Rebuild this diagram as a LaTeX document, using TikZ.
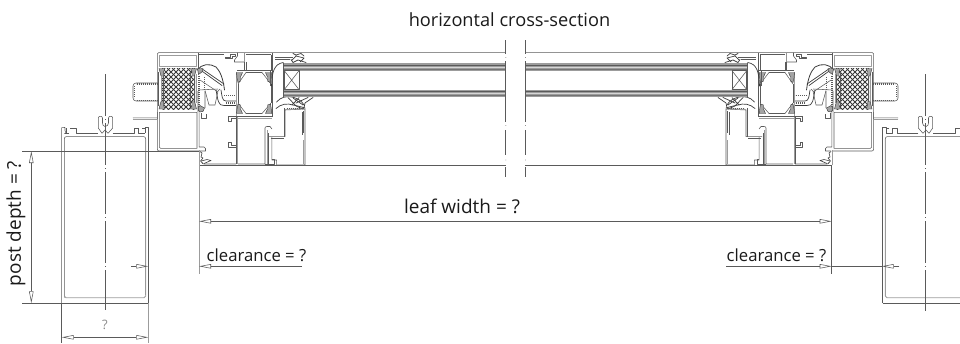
\documentclass[tikz,border=0pt]{standalone}
\usepackage{fontspec}
\setmainfont{Open Sans}
\usetikzlibrary{arrows.meta}
\definecolor{ink}{HTML}{5A5A5A}
\definecolor{dark}{HTML}{3A3A3A}
\definecolor{txt}{HTML}{1A1A1A}
\tikzset{
 ln/.style={draw=ink,line width=0.55pt,line join=round},
 lg/.style={draw=ink!60,line width=0.9pt,line join=round},
 gk/.style={draw=dark,line width=0.9pt,line cap=round,line join=round},
 gkd/.style={draw=ink,line width=1.1pt,dash pattern=on 1.1pt off 0.9pt},
 blk/.style={fill=ink!55,draw=dark,line width=0.45pt},
 dim/.style={draw=ink,line width=0.55pt},
 tipA/.tip={Triangle[open,length=12pt,width=4.4pt,line width=0.55pt]},
 arr/.style={draw=ink,line width=0.55pt,{tipA}-{tipA}},
 arrE/.style={draw=ink,line width=0.55pt,-{tipA}},
 ctr/.style={draw=ink,line width=0.5pt,dash pattern=on 42pt off 3pt on 1pt off 3pt},
 lab/.style={text=txt,inner sep=0pt},
 qm/.style={text=ink!70,font=\fontsize{13}{15}\selectfont,inner sep=0pt},
}
\newcommand{\postshape}{%
 \draw[ln] (61.7,303.3)--(61.7,127.7)--(65,127.7)--(65,130.5)--(66,133.3)--(64,133.3);
 \draw[ln] (148.3,303.3)--(148.3,127.7)--(145,127.7)--(145,133.3);
 \draw[ln] (63.5,127.7)--(65,127.7) (69,133.3)--(64.5,133.3);
 \draw[ln] (66,133.3)--(66,128) (70,128)--(72,128) (72,128)--(76,128)--(76,133.3)--(98.3,133.3);
 \draw[ln] (112.7,133.3)--(134,133.3)--(134,128)--(138.5,128) (142,128)--(145,128) (138.5,128)--(138.5,133.3)--(145,133.3);
 \draw[ln] (61.7,303.3)--(148.3,303.3);
 \draw[ln] (102,133.3)--(98.3,128)--(98.3,118) to[out=90,in=90,looseness=1.4] (102.5,118)--(102.5,123) to[out=-90,in=180] (105,126.5)
   to[out=0,in=-90] (108.5,123)--(108.5,118) to[out=90,in=90,looseness=1.4] (112.7,118)--(112.7,128)--(108,133.3);
 \draw[ln] (102,133.3)--(105,130)--(108,133.3);
 \draw[ln] (64.3,297.7)--(64.3,139) to[out=90,in=180] (66,136.7)--(144,136.7) to[out=0,in=90] (145.7,139)--(145.7,295);
 \draw[lg] (145.7,139)--(145.7,296) to[out=-90,in=0] (144,297.7)--(66,297.7) to[out=180,in=-90] (64.3,296);
}
\newcommand{\halfsection}{%
 \draw[ln] (157.3,119)--(157.3,54) to[out=90,in=180] (158.5,52.7)--(505.7,52.7);
 \draw[ln] (199,54.3)--(224,54.3);
 \draw[ln] (157.3,112)--(157.3,149) to[out=-90,in=180] (159,151)--(199,151);
 \draw[lg] (159.3,55)rectangle(196.8,66);
 \draw[ln] (159.3,112.3)--(159.3,147)to[out=-90,in=180](160.5,148.3)--(197,148.3)--(197,112.3)--cycle;
 \draw[ln] (198.5,52.7)--(198.5,71);
 \draw[ln] (199.2,113)--(199.2,147)--(204,147)--(205.5,148.5)--(205.5,151)--(200,151);
 \draw[ln] (201,113)--(201,118)--(206,118)--(206,114);
 \draw[lg] (132.7,119)--(157,119);
 \draw[ln] (133,118)--(134,117.8)--(157,117.8);
 \draw[ln] (158,83)--(136,83) to[out=180,in=90] (133,86)--(133,98) to[out=-90,in=180] (136,101)--(158,101);
 \draw[gkd] (158,84)--(136,84);\draw[gkd] (158,100.5)--(136,100.5);
 \draw[gkd] (134.3,86)--(134.3,98);
 \begin{scope}
  \clip (162,68.3) rectangle (195,109.3);
  \foreach \d in {-50,-45,...,60}{
   \draw[draw=dark,line width=0.75pt] (162+\d,68)--(162+\d+42,110);
   \draw[draw=dark,line width=0.75pt] (195-\d,68)--(195-\d-42,110);
  }
 \end{scope}
 \draw[lg] (161,74)--(161,103);\draw[lg] (196,74)--(196,103);
 \draw[ln] (163,72)--(163,106) (190.3,72)--(190.3,106) (194.5,72)--(194.5,106) (158.5,72)--(158.5,106);
 \filldraw[blk] (159,68.5)--(165,68.5)--(163.5,72)--(163.5,76)--(161,76)--(160,72)--cycle;
 \filldraw[blk] (190.5,68.5)--(196.5,68.5)--(195.5,72)--(194.5,76)--(192,76)--(192,72)--cycle;
 \filldraw[blk] (159,109)--(165,109)--(163.5,105)--(163.5,101.5)--(161,101.5)--(160,105)--cycle;
 \filldraw[blk] (190.5,109)--(196.5,109)--(195.5,105)--(194.5,101.5)--(192,101.5)--(192,105)--cycle;
 \draw[gk,line width=0.8pt] (197.5,70) .. controls (201,64) and (210,63) .. (216,67) .. controls (220,71) and (223,78) .. (224.5,90);
 \draw[gk,line width=0.7pt] (199,69)--(222,85.5) (201.5,68.5)--(224,84);
 \draw[ln] (200,80)--(218,92);
 \draw[gkd] (199,76)--(199,112);\draw[gkd] (204.5,77)--(204.5,90);
 \filldraw[blk] (197.5,68.5)--(203,68.5)--(202,72)--(198.5,74.5)--cycle;
 \filldraw[blk] (198,108)--(200,105.5)--(204.5,108)--(203,111.5)--(199.5,112)--cycle;
 \draw[ln] (198,90)--(218,89) (205,91)--(205,108) (198,91)--(198,112);
 \draw[ln] (205,90.5)--(209,105)--(215,105)--(218,91)--(220,89);
 \draw[gk,line width=0.7pt] (216,90) .. controls (218,100) and (218,106) .. (224,105.5)--(236,105.5);
 \draw[gk,line width=0.7pt] (221,90) .. controls (222,96) and (222,101) .. (226,101)--(236,101);
 \draw[gkd] (224,95.5)--(236,95.5);\draw[gkd] (226,103)--(236,103);
 \draw[ln] (225,57)--(230,57)--(230,54.5)--(235,54.5)--(235,56.5)--(232,56.5)--(232,58.5)--(225,58.5)--cycle;
 \draw[ln] (237.5,52.7)--(237.5,56)--(234.5,60)--(234.5,62)--(244.3,62)--(244.3,53);
 \draw[ln] (244.5,62)--(244.5,70.7) (246,61.8)--(246,70);
 \draw[ln] (272.7,52.7)--(272.7,116);
 \draw[ln] (270.8,54.5)--(270.8,70) (246,54.5)--(270.8,54.5) ;
 \draw[ln] (244.5,70.7)--(272.7,70.7);
 \draw[lg] (236.5,72)--(236.5,116);
 \draw[ln] (238,84)--(238,103) (271,84)--(271,103);
 \draw[ln] (238,84)--(246,72.5)--(262,72.5)--(271,84);
 \draw[ln] (238,103)--(246,113.5)--(262,113.5)--(271,103);
 \draw[ln] (237,70.7)--(244,70.7);
 \filldraw[blk] (236.5,72.5)--(242.5,72.5)--(240.5,77)--(240.5,81)--(238,82.5)--(237,78)--cycle;
 \filldraw[blk] (271.8,72.5)--(265.5,72.5)--(267.5,77)--(267.5,81)--(270.5,82.5)--(271.3,78)--cycle;
 \filldraw[blk] (236.5,113.5)--(242.5,113.5)--(240.5,109)--(240.5,105)--(238,104)--(237,109)--cycle;
 \filldraw[blk] (271.8,113.5)--(265.5,113.5)--(267.5,109)--(267.5,105)--(270.5,104)--(271.3,109)--cycle;
 \draw[ln] (228.3,116)--(272.7,116);
 \draw[ln] (236,116)--(236,164);
 \draw[lg] (237,118)--(272,118);
 \draw[lg] (237,117)--(237,164);
 \draw[ln] (228.3,116)--(228.3,121)--(231,121)--(231,118)--(236,118);
 \draw[ln] (228.3,142.7)--(228.3,147.7)--(236,147.7) (228.3,142.7)--(231,142.7)--(231,145.5)--(236,145.5);
 \draw[ln] (236,164)--(204,164) to[out=180,in=-90] (201.7,162);
 \draw[ln] (238,164)--(265,164)--(265,128) to[out=90,in=180] (267,126.5)--(270,126.5)--(272,129);
 \draw[ln] (268,133)--(268,164) (265,164)--(274,164)--(274,159.5)--(271.8,159.5);
 \draw[lg] (267,130)--(267,164);
 \draw[gk,line width=0.6pt] (200,151.5)--(202,153)--(201,157)--(203,158)--(200.5,161)--(203,163.5);
 \draw[gk,line width=0.6pt] (201,161)--(207,159.5)--(211,160.5)--(204,163.5);
 \draw[ln] (269,136.7)--(285,136.7)--(285,110)--(305,109)--(305,165)--(276.7,165)--(276.7,160)--(271.8,160)--(271.8,136.7);
 \draw[ln] (270.5,138.5)--(283.5,138.5) (283.8,108)--(283.8,137);
 \draw[lg] (303.5,140)--(303.5,164) (285,109.5)--(304,108.5);
 \draw[ln] (302,112)--(302,135) (303.3,111)--(303.3,133);
 \draw[gk,line width=0.7pt] (271.5,86) .. controls (272,72) and (274,64) .. (283.3,62.5);
 \draw[ln] (270,86)--(270,70) ;
 \draw[ln] (275,57.5)--(293,57.5) (275,59)--(290,59);
 \draw[gk,line width=0.7pt] (293,53.5)--(296,55)--(301,53.5)--(304,56) (291,59.5)--(293,62.5)--(298,60)--(306,62.5) (292,60)--(296,56)--(304,58)--(300,62);
 \draw[gk,line width=0.7pt] (276.5,102) .. controls (281,97) and (286,96) .. (292,97) .. controls (297,98) and (302,101) .. (304,105);
 \draw[gk,line width=0.7pt] (276,108.5) .. controls (281,104) and (287,103) .. (293,105) .. controls (298,106) and (302,107) .. (305,108);
 \draw[gk,line width=0.7pt] (288,97.5)--(296,106)--(303,109) (299,97.5)--(292,105) (313,97.5)--(305,103)--(304,108) (308,97.5)--(296,103) (293,98)--(303,105);
 \draw[gkd] (287,108.5)--(305,108.5);
 % glazing
 \fill[ink!60] (283.3,63.3) rectangle (505.7,70.7);
 \fill[ink!60] (283.3,89.6) rectangle (505.7,97);
 \draw[ink,line width=1pt] (283.3,65)--(505.7,65) (283.3,91)--(505.7,91);
 \draw[ink!25,line width=0.7pt] (283.3,67.3)--(505.7,67.3) (283.3,93.4)--(505.7,93.4);
 \draw[ink!85,line width=0.6pt] (283.3,69.3)--(505.7,69.3) (283.3,95.4)--(505.7,95.4);
 \draw[ln] (284.3,70.7) rectangle (299,89.6);
 \draw[ln] (284.3,70.7)--(299,89.6) (299,70.7)--(284.3,89.6);
 \draw[ln] (283.3,63)--(283.3,97);
 \draw[ln] (199,165)--(505.7,165);
 \draw[lg] (199,150)--(199,165);
 \draw[ln] (505.7,40)--(505.7,54) (505.7,61)--(505.7,122) (505.7,130)--(505.7,155) (505.7,167)--(505.7,176.7);
 \fill[ink] (505.5,57) rectangle (506,57.8) (505.5,125) rectangle (506,125.8) (505.5,159.5) rectangle (506,160.3);
}
\begin{document}
\begin{tikzpicture}[x=1pt,y=-1pt]
\useasboundingbox (0,0) rectangle (960,343);
\clip (0,0) rectangle (960,343);
\halfsection
\postshape
\begin{scope}[xshift=1031pt,xscale=-1]
 \halfsection
 \postshape
\end{scope}
\draw[lg] (199,165)--(199,274.3);
\draw[ln] (831.7,165)--(831.7,274.3);
\coordinate (cLt) at (105.7,74); \coordinate (cLb) at (105.7,310);
\coordinate (cRt) at (925.3,74); \coordinate (cRb) at (925.3,311);
\draw[ctr] (cLt)--(cLb);
\draw[ctr] (cRt)--(cRb);
\coordinate (lwL) at (199,221.3); \coordinate (lwR) at (831.7,221.3);
\draw[arr] (lwL)--(lwR);
\coordinate (pdT) at (31.3,151); \coordinate (pdB) at (31.3,303.3);
\draw[arr] (pdT)--(pdB);
\draw[dim] (22.3,151)--(199,151);
\draw[dim] (22.3,303.3)--(61.7,303.3);
\coordinate (pwL) at (61.7,337.3); \coordinate (pwR) at (148.3,337.3);
\draw[arr] (pwL)--(pwR);
\draw[dim] (61.7,303.3)--(61.7,343);
\draw[lg] (148.6,303.3)--(148.6,343);
\coordinate (c1a) at (131,266.3); \coordinate (c1b) at (148.3,266.3);
\coordinate (c1c) at (199,266.3); \coordinate (c1d) at (302,266.3);
\draw[arrE] (c1a)--(c1b);
\draw[arrE] (c1d)--(c1c);
\coordinate (c2a) at (726.3,266.3); \coordinate (c2b) at (831.7,266.3);
\coordinate (c2c) at (881.7,266.3); \coordinate (c2d) at (899.3,266.3);
\draw[arrE] (c2a)--(c2b);
\draw[arrE] (c2d)--(c2c);
\draw[dim] (c2b)--(c2c);
\node[lab,font=\fontsize{18.2}{20}\selectfont] (tTitle) at (509.5,20) {horizontal cross-section};
\node[lab,font=\fontsize{19}{21}\selectfont] (tLeaf) at (462,206) {leaf width = ?};
\node[lab,font=\fontsize{16.7}{19}\selectfont] (tC1) at (256.5,255) {clearance = ?};
\node[lab,font=\fontsize{16.7}{19}\selectfont] (tC2) at (776.5,255) {clearance = ?};
\node[lab,rotate=90,font=\fontsize{19}{21}\selectfont] (tPd) at (16,223.5) {post depth = ?};
\node[qm] (tQ) at (105,325) {?};
\end{tikzpicture}
\end{document}
